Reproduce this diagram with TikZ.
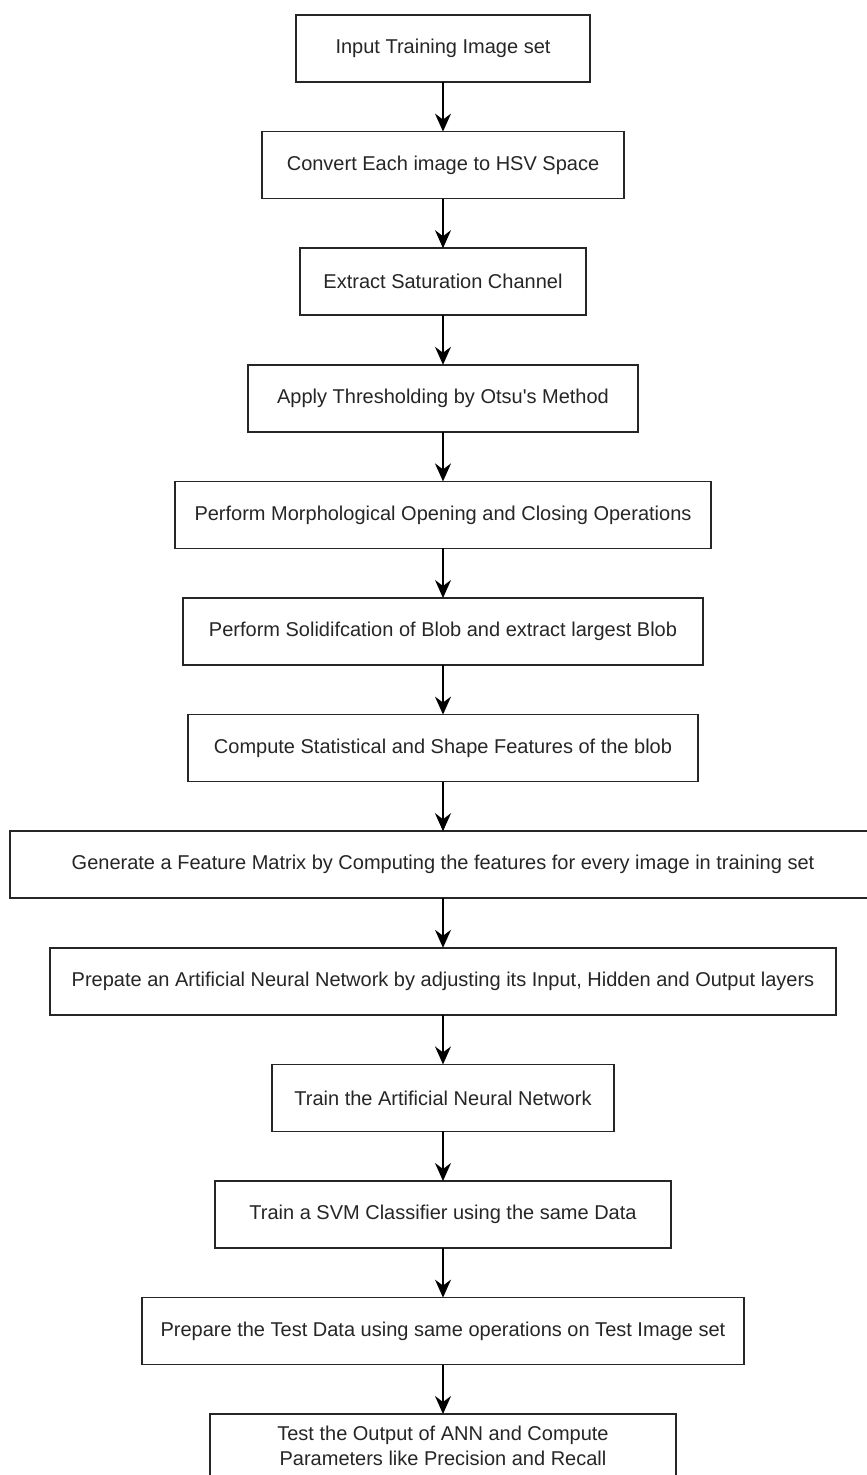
\documentclass[tikz,border=0pt]{standalone}
\usepackage{fontspec}
\setmainfont{Liberation Sans}
\usetikzlibrary{arrows.meta}
\tikzset{
  stepbox/.style={draw=black!85, line width=1.5pt, inner sep=0pt, outer sep=0pt,
    minimum height=67pt, align=center, text=black!85,
    font=\fontsize{20}{25}\selectfont},
  flow/.style={draw=black, line width=1.5pt,
    -{Stealth[length=18pt,width=16pt,inset=6pt]}}
}
\begin{document}
\begin{tikzpicture}[x=1pt,y=-1pt]
\useasboundingbox (0,0) rectangle (867,1475);
\fill[white] (0,0) rectangle (867,1475);
\node[stepbox, minimum width=294pt] (b1) at (443,48.5) {Input Training Image set};
\node[stepbox, minimum width=362pt] (b2) at (443,165.1) {Convert Each image to HSV Space};
\node[stepbox, minimum width=286pt] (b3) at (443,281.7) {Extract Saturation Channel};
\node[stepbox, minimum width=390pt] (b4) at (443,398.3) {Apply Thresholding by Otsu\textquotesingle s Method};
\node[stepbox, minimum width=536pt] (b5) at (443,514.9) {Perform Morphological Opening and Closing Operations};
\node[stepbox, minimum width=520pt] (b6) at (443,631.5) {Perform Solidifcation of Blob and extract largest Blob};
\node[stepbox, minimum width=510pt] (b7) at (443,748.1) {Compute Statistical and Shape Features of the blob};
\node[stepbox, minimum width=866pt] (b8) at (443,864.7) {Generate a Feature Matrix by Computing the features for every image in training set};
\node[stepbox, minimum width=786pt] (b9) at (443,981.3) {Prepate an Artificial Neural Network by adjusting its Input, Hidden and Output layers};
\node[stepbox, minimum width=342pt] (b10) at (443,1097.9) {Train the Artificial Neural Network};
\node[stepbox, minimum width=456pt] (b11) at (443,1214.5) {Train a SVM Classifier using the same Data};
\node[stepbox, minimum width=602pt] (b12) at (443,1331.1) {Prepare the Test Data using same operations on Test Image set};
\node[stepbox, minimum width=466pt, minimum height=64pt] (b13) at (443,1446) {Test the Output of ANN and Compute\\Parameters like Precision and Recall};
\foreach \a/\b in {b1/b2,b2/b3,b3/b4,b4/b5,b5/b6,b6/b7,b7/b8,b8/b9,b9/b10,b10/b11,b11/b12,b12/b13}
  \draw[flow] (\a.south) -- (\b.north);
\end{tikzpicture}
\end{document}
